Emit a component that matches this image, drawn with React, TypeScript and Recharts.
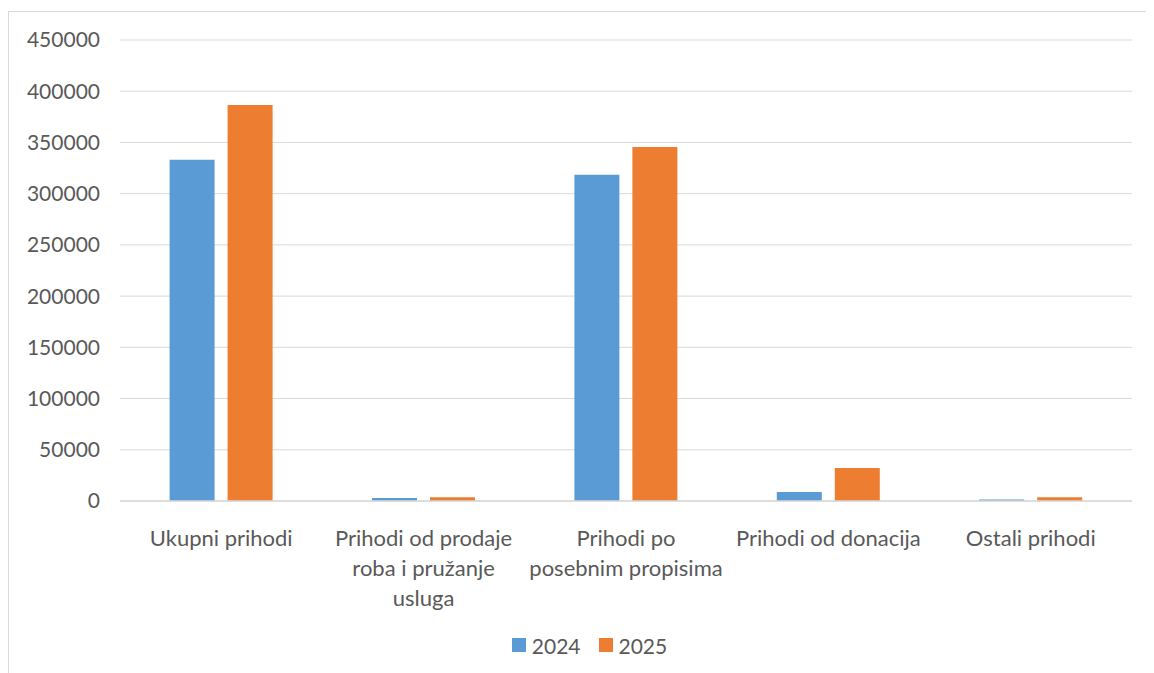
import { BarChart, Bar, XAxis, YAxis, CartesianGrid, Legend } from 'recharts';

const categories = [
  'Ukupni prihodi',
  'Prihodi od prodaje roba i pružanje usluga',
  'Prihodi po posebnim propisima',
  'Prihodi od donacija',
  'Ostali prihodi',
];
const values2024 = [333000, 3000, 318500, 8800, 1500];
const values2025 = [386500, 3700, 345500, 32200, 3600];
const yTicks = [0, 50000, 100000, 150000, 200000, 250000, 300000, 350000, 400000, 450000];
const seriesNames = ['2024', '2025'];

const FONT = 'Lato, sans-serif';
const CAT_SIZE = 22;
const FONT_SIZE = 21;
const TEXT_COLOR = '#595959';
const COLORS = ['#5b9bd5', '#ed7d31'];

const data = categories.map((name, i) => ({
  name,
  v2024: values2024[i],
  v2025: values2025[i],
}));

let ctx: CanvasRenderingContext2D | null = null;
const measure = (s: string) => {
  if (!ctx) ctx = document.createElement('canvas').getContext('2d');
  if (!ctx) return s.length * CAT_SIZE * 0.5;
  ctx.font = `${CAT_SIZE}px ${FONT}`;
  return ctx.measureText(s).width;
};

// greedy word wrap, like the spreadsheet does
const wrap = (label: string, maxWidth: number) => {
  const words = label.split(' ');
  const lines: string[] = [];
  let cur = '';
  words.forEach((w) => {
    const next = cur ? cur + ' ' + w : w;
    if (cur && measure(next) > maxWidth) {
      lines.push(cur);
      cur = w;
    } else {
      cur = next;
    }
  });
  if (cur) lines.push(cur);
  return lines;
};

const CategoryTick = (props: any) => {
  const { x, y, payload } = props;
  const lines = wrap(payload.value, 196);
  return (
    <g>
      {lines.map((line, i) => (
        <text
          key={i}
          x={x}
          y={y + 36 + i * 30}
          textAnchor="middle"
          dominantBaseline="central"
          fill={TEXT_COLOR}
          fontSize={CAT_SIZE}
          fontFamily={FONT}
        >
          {line}
        </text>
      ))}
    </g>
  );
};

const LegendContent = () => (
  <div style={{ display: 'flex', justifyContent: 'center', alignItems: 'center', height: 40, paddingLeft: 38 }}>
    {seriesNames.map((s, i) => (
      <div key={s} style={{ display: 'flex', alignItems: 'center', marginLeft: i ? 18 : 0 }}>
        <span style={{ width: 14, height: 14, background: COLORS[i], display: 'inline-block', marginRight: 6 }} />
        <span style={{ fontFamily: FONT, fontSize: FONT_SIZE, color: TEXT_COLOR }}>{s}</span>
      </div>
    ))}
  </div>
);

const App = () => {
  return (
    <div style={{ position: 'relative', top: 3 }}>
      <div style={{ width: 1160, height: 680, border: '1px solid #d9d9d9', background: '#fff' }}>
        <BarChart
          width={1140}
          height={661}
          data={data}
          margin={{ top: 28, right: 17, bottom: 8, left: 0 }}
          barCategoryGap="24.5%"
          barGap={13}
        >
          <CartesianGrid vertical={false} stroke="#d9d9d9" />
          <XAxis
            dataKey="name"
            interval={0}
            height={124}
            tickLine={false}
            tickSize={0}
            tickMargin={0}
            stroke="#d9d9d9"
            strokeWidth={1.5}
            tick={<CategoryTick />}
          />
          <YAxis
            width={111}
            domain={[0, 450000]}
            ticks={yTicks}
            axisLine={false}
            tickLine={false}
            tickSize={0}
            tickMargin={20}
            tick={{ fill: TEXT_COLOR, fontSize: FONT_SIZE, fontFamily: FONT }}
          />
          <Legend verticalAlign="bottom" height={40} content={<LegendContent />} />
          <Bar dataKey="v2024" name={seriesNames[0]} fill={COLORS[0]} isAnimationActive={false} />
          <Bar dataKey="v2025" name={seriesNames[1]} fill={COLORS[1]} isAnimationActive={false} />
        </BarChart>
      </div>
    </div>
  );
};

export default App;
